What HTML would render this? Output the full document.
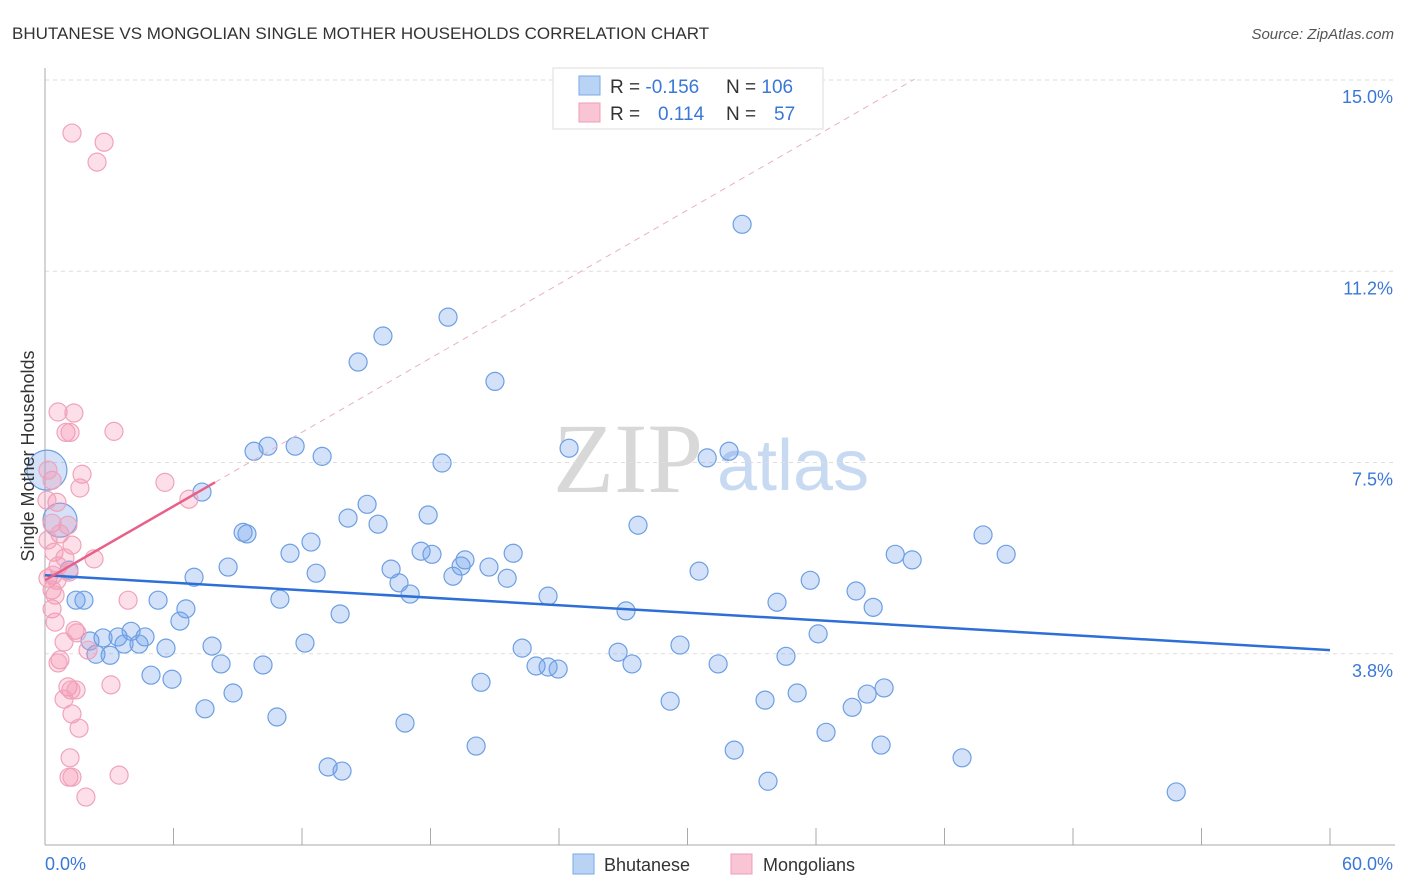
<!DOCTYPE html>
<html><head><meta charset="utf-8"><style>
body{margin:0;background:#fff;}
svg{display:block;font-family:"Liberation Sans",sans-serif;}
</style></head><body>
<svg id="chart" width="1406" height="892">
<text x="12" y="39" font-size="17" fill="#333">BHUTANESE VS MONGOLIAN SINGLE MOTHER HOUSEHOLDS CORRELATION CHART</text>
<text x="1394" y="39" font-size="15" fill="#555" font-style="italic" text-anchor="end">Source: ZipAtlas.com</text>
<g>
<text x="553" y="492" font-size="100" font-family="Liberation Serif,serif" fill="#d8d8d8">ZIP</text>
<text x="717" y="490" font-size="72" fill="#c8daf2">atlas</text>
</g>
<g id="grid"></g>
<g id="axes"></g>
<g id="pts"></g>
<g id="lines"></g>
<g>
<rect x="553" y="68" width="270" height="61" fill="#fff" stroke="#ddd"/>
<rect x="579" y="76" width="21" height="19" fill="#b9d3f5" stroke="#7aa8e6"/>
<rect x="579" y="103" width="21" height="19" fill="#f9c4d3" stroke="#ef9db5"/>
<text x="610" y="93" font-size="19" fill="#333">R = <tspan fill="#3a78d6">-0.156</tspan></text>
<text x="726" y="93" font-size="19" fill="#333">N = <tspan fill="#3a78d6">106</tspan></text>
<text x="610" y="120" font-size="19" fill="#333">R = <tspan x="658" fill="#3a78d6">0.114</tspan></text>
<text x="726" y="120" font-size="19" fill="#333">N = <tspan x="774" fill="#3a78d6">57</tspan></text>
</g>
<g>
<rect x="573" y="854" width="21" height="20" fill="#b9d3f5" stroke="#7aa8e6"/>
<text x="604" y="871" font-size="18" fill="#333">Bhutanese</text>
<rect x="731" y="854" width="21" height="20" fill="#f9c4d3" stroke="#ef9db5"/>
<text x="763" y="871" font-size="18" fill="#333">Mongolians</text>
</g>
<text transform="translate(34,456) rotate(-90)" font-size="18" fill="#333" text-anchor="middle">Single Mother Households</text>
</svg>
<script>
const yTicks=[3.75,7.5,11.25,15];
const yTickLabels=["3.8%","7.5%","11.2%","15.0%"];
const xTickLabels=["0.0%","60.0%"];
const blueX=[32.55,18.82,15.78,14.62,21.01,10.41,11.68,9.76,12.94,18.54,24.47,31.94,30.92,7.33,15.04,14.15,15.55,17.89,9.25,9.43,27.69,43.80,11.44,12.42,17.56,18.07,19.61,21.86,19.43,19.05,20.73,21.58,16.16,16.53,17.05,12.66,8.55,6.96,39.70,40.49,44.88,30.54,35.73,37.87,38.67,34.18,23.49,27.13,10.97,13.78,6.58,5.28,1.45,1.82,6.30,4.02,4.67,3.41,2.71,2.10,3.69,4.39,2.38,3.04,5.65,7.80,12.14,22.28,26.76,29.65,36.10,34.60,8.22,10.18,22.93,23.49,23.96,27.41,31.43,4.95,5.93,20.36,8.78,35.12,39.18,38.39,37.69,33.62,29.19,7.47,10.83,16.81,36.47,20.13,39.04,32.18,42.82,13.22,13.87,33.76,52.82,1.12,0.70,0.09];
const blueY=[12.17,10.35,9.98,9.47,9.09,7.82,7.82,7.72,7.62,7.49,7.78,7.72,7.59,6.92,6.68,6.41,6.29,6.47,6.13,6.10,6.27,6.08,5.72,5.94,5.76,5.70,5.59,5.72,5.47,5.27,5.45,5.23,5.41,5.14,4.92,5.33,5.45,5.25,5.70,5.59,5.70,5.37,5.19,4.98,4.66,4.76,4.88,4.59,4.82,4.53,4.63,4.80,4.80,4.80,4.39,4.19,4.08,4.08,4.06,4.00,3.94,3.94,3.74,3.72,3.86,3.90,3.96,3.86,3.78,3.92,4.14,3.70,3.55,3.53,3.51,3.49,3.45,3.55,3.55,3.33,3.25,3.19,2.98,2.98,3.08,2.96,2.70,2.84,2.82,2.67,2.51,2.39,2.21,1.94,1.96,1.86,1.71,1.53,1.45,1.25,1.04,5.39,6.37,7.35];
const blueSize=blueX.map((v,i)=>i===blueX.length-1?20:(i===blueX.length-2?17:9));
const pinkX=[1.26,2.76,2.43,0.61,1.35,0.98,1.17,3.22,5.60,1.73,1.63,6.72,0.56,0.33,1.07,0.70,0.14,1.26,0.42,0.93,2.29,0.61,0.37,1.12,0.14,0.56,0.33,0.47,0.33,0.47,1.40,1.49,0.89,3.88,2.01,0.70,0.61,1.07,1.21,1.45,0.89,3.08,1.26,1.59,1.17,1.12,1.26,3.46,1.91,0.33,0.14,0.09];
const pinkY=[13.96,13.78,13.39,8.49,8.47,8.09,8.09,8.11,7.11,7.27,7.00,6.78,6.72,6.31,6.27,6.10,5.98,5.88,5.74,5.63,5.61,5.47,5.29,5.35,5.23,5.19,5.00,4.90,4.63,4.37,4.21,4.16,3.98,4.80,3.82,3.63,3.57,3.10,3.04,3.04,2.86,3.14,2.57,2.29,1.71,1.33,1.33,1.37,0.94,7.15,7.35,6.76];
const blueLine=[5.29,3.82];
const pinkLine=[5.19,0.242];
const pinkSolidEnd=7.94, pinkDashEnd=40.6;

const X0=45,X1=1330,YT=80,YB=845;
const xs=v=>X0+(X1-X0)*v/60;
const ys=v=>YB-(YB-YT)*v/15;
const NS='http://www.w3.org/2000/svg';
function mk(tag,attrs,parent){const e=document.createElementNS(NS,tag);for(const k in attrs)e.setAttribute(k,attrs[k]);document.getElementById(parent).appendChild(e);return e;}

yTicks.forEach((t,i)=>{
 const g=mk('line',{x1:X0,x2:1395,y1:ys(t),y2:ys(t),stroke:'#ddd','stroke-dasharray':'4,4'},'grid');
 
 
 const l=mk('text',{x:1393,y:ys(t)+23,'font-size':18,fill:'#3a78d6','text-anchor':'end'},'axes');
 l.textContent=yTickLabels[i];
 
 
});
const ax=mk('line',{x1:X0,x2:X0,y1:68,y2:YB,stroke:'#aaa'},'axes');


const bx=mk('line',{x1:X0,x2:1395,y1:YB,y2:YB,stroke:'#aaa'},'axes');


for(let i=0;i<=10;i++){
 const t=mk('line',{x1:xs(i*6),x2:xs(i*6),y1:828,y2:YB,stroke:'#aaa'},'axes');
 
 
}
[[0,'start',45],[60,'end',1393]].forEach((d,i)=>{
 const l=mk('text',{x:d[2],y:870,'font-size':18,fill:'#3a78d6','text-anchor':d[1]},'axes');
 l.textContent=xTickLabels[i];
 
 
});
blueX.forEach((v,i)=>{
 const c=mk('circle',{cx:xs(v),cy:ys(blueY[i]),r:blueSize[i],fill:'rgba(110,160,235,0.3)',stroke:'#6d9fe3','stroke-width':1.2},'pts');
 
 
});
pinkX.forEach((v,i)=>{
 const c=mk('circle',{cx:xs(v),cy:ys(pinkY[i]),r:9,fill:'rgba(245,150,180,0.3)',stroke:'#f0a3ba','stroke-width':1.2},'pts');
 
 
});
const bl=mk('line',{x1:xs(0),y1:ys(blueLine[0]),x2:xs(60),y2:ys(blueLine[1]),stroke:'#2d6fd6','stroke-width':2.5},'lines');


const pd=mk('line',{x1:xs(pinkSolidEnd),y1:ys(pinkLine[0]+pinkLine[1]*pinkSolidEnd),x2:xs(pinkDashEnd),y2:ys(pinkLine[0]+pinkLine[1]*pinkDashEnd),stroke:'#eab0c0','stroke-width':1,'stroke-dasharray':'6,5'},'lines');


const pl=mk('line',{x1:xs(0),y1:ys(pinkLine[0]),x2:xs(pinkSolidEnd),y2:ys(pinkLine[0]+pinkLine[1]*pinkSolidEnd),stroke:'#e8608a','stroke-width':2.5},'lines');


</script>
</body></html>
